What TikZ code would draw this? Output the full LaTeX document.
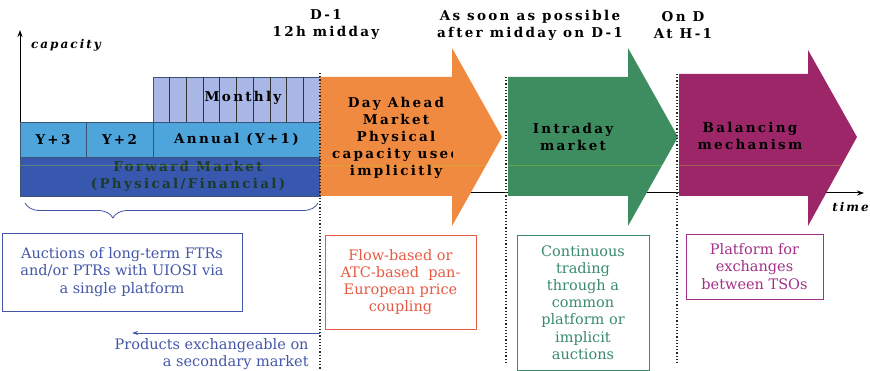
\documentclass[tikz,border=0pt]{standalone}
\usepackage{fontspec}
\setmainfont{DejaVu Serif}
\newfontfamily\heavyfont[LetterSpace=17]{DejaVu Serif}
\usetikzlibrary{arrows.meta, decorations.pathreplacing}

\definecolor{monthblue}{HTML}{A9B7E7}
\definecolor{yearblue}{HTML}{4EA5DC}
\definecolor{fwdblue}{HTML}{3758AE}
\definecolor{edgeblue}{HTML}{3A5478}
\definecolor{fwdtext}{HTML}{1E3A2C}
\definecolor{daorange}{HTML}{F08A40}
\definecolor{idgreen}{HTML}{3E8D60}
\definecolor{balpurple}{HTML}{9C2668}
\definecolor{auctblue}{HTML}{4456A8}
\definecolor{cplred}{HTML}{E65A44}
\definecolor{ctgreen}{HTML}{3A8A6C}
\definecolor{tsopurple}{HTML}{A23088}

\tikzset{
  heavy/.style={font=\heavyfont\bfseries\fontsize{13.5}{17}\selectfont, align=center, inner sep=0pt},
  axislabel/.style={font=\heavyfont\bfseries\itshape\fontsize{12}{14}\selectfont, inner sep=0pt},
  axis/.style={line width=1pt, -{Stealth[length=7pt,width=5pt]}},
  yearbox/.style={fill=yearblue, draw=edgeblue, line width=0.7pt},
  monthbox/.style={fill=monthblue, draw=edgeblue, line width=0.7pt},
  monthline/.style={draw=black!80, line width=0.7pt},
  fwdbox/.style={fill=fwdblue, draw=edgeblue, line width=0.7pt},
  dotline/.style={line width=1.2pt, dotted, black!85},
  infobox/.style={font=\fontsize{14.5}{17.2}\selectfont, align=center, line width=0.8pt, inner sep=0pt},
  braceline/.style={draw=auctblue, line width=0.8pt, decorate,
    decoration={brace, mirror, amplitude=15pt, aspect=0.3}},
  scanline/.style={yellow!70!green, opacity=0.3, line width=0.9pt}
}

\begin{document}
\begin{tikzpicture}[x=1pt, y=-1pt]
    \useasboundingbox (0,0) rectangle (870,371);
    % time axis
    \coordinate (timebase) at (320,193);
    \coordinate (timetip) at (864,193);
    \draw[axis] (timebase) -- (timetip);
    \node[axislabel, anchor=east] (timelabel) at (869,207) {time};
    % capacity axis
    \coordinate (capbase) at (20,122);
    \coordinate (captop) at (20,30);
    \draw[axis] (capbase) -- (captop);
    \node[axislabel] (caplabel) at (66,45) {capacity};
    % forward market blocks
    \draw[yearbox] (20,122) rectangle (86,157) node[pos=0.5, heavy] (y3) {Y+3};
    \draw[yearbox] (86,122) rectangle (153,157) node[pos=0.5, heavy] (y2) {Y+2};
    \draw[yearbox] (153,122) rectangle (320,157) node[pos=0.5, heavy] (annual) {Annual (Y+1)};
    \draw[monthbox] (153,77) rectangle (320,122);
    \foreach \k in {1,...,9}
        \draw[monthline] (153+16.7*\k,77) -- (153+16.7*\k,122);
    \node[heavy] (monthly) at (243,98) {Monthly};
    \draw[fwdbox] (20,157) rectangle (320,196);
    \node[heavy, text=fwdtext] (forward) at (188,176) {Forward Market\\(Physical/Financial)};
    % big arrows
    \fill[daorange] (320,77) -- (452,77) -- (452,48) -- (502,137) -- (452,226) -- (452,196) -- (320,196) -- cycle;
    \fill[idgreen] (508,77) -- (628,77) -- (628,48) -- (678,137) -- (628,226) -- (628,196) -- (508,196) -- cycle;
    \fill[balpurple] (679,74) -- (808,74) -- (808,50) -- (857,137) -- (808,226) -- (808,196) -- (679,196) -- cycle;
    \draw[scanline] (20,165) -- (486,165);
    \draw[scanline] (508,165) -- (662,165);
    \draw[scanline] (679,165) -- (841,165);
    \begin{scope}
        \clip (320,77) rectangle (452,196);
        \node[heavy] (dayahead) at (396,138) {Day Ahead\\Market\\Physical\\capacity used\\implicitly};
    \end{scope}
    \node[heavy] (intraday) at (573,137) {Intraday\\market};
    \node[heavy] (balancing) at (750,136) {Balancing\\mechanism};
    % time marks
    \node[heavy] (dminus) at (326,24) {D-1\\12h midday};
    \node[heavy] (asap) at (530,25) {As soon as possible\\after midday on D-1};
    \node[heavy] (ond) at (683,25) {On D\\At H-1};
    \draw[dotline] (320,73) -- (320,371);
    \draw[dotline] (506,77) -- (506,365);
    \draw[dotline] (677,74) -- (677,364);
    % brace and boxes
    \draw[braceline] (25,203) -- (318,203);
    \node[infobox, draw=auctblue, text=auctblue, minimum width=240, minimum height=78] (auctions) at (122,272)
        {Auctions of long-term FTRs\\and/or PTRs with UIOSI via\\a single platform};
    \node[infobox, draw=cplred, text=cplred, minimum width=151, minimum height=94] (coupling) at (400.5,282)
        {Flow-based or\\ATC-based\ \ pan-\\European price\\coupling};
    \node[infobox, draw=ctgreen, text=ctgreen, minimum width=132, minimum height=135] (continuous) at (583,302.5)
        {Continuous\\trading\\through a\\common\\platform or\\implicit\\auctions};
    \node[infobox, draw=tsopurple, text=tsopurple, minimum width=137, minimum height=65] (tsos) at (754.5,266.5)
        {Platform for\\exchanges\\between TSOs};
    % secondary market
    \coordinate (secfrom) at (320,333);
    \coordinate (secto) at (132,333);
    \draw[auctblue, line width=0.8pt, -{Stealth[length=6pt,width=4pt]}] (secfrom) -- (secto);
    \node[infobox, text=auctblue, align=right, anchor=north east] (secnote) at (309,338)
        {Products exchangeable on\\a secondary market};
\end{tikzpicture}
\end{document}
